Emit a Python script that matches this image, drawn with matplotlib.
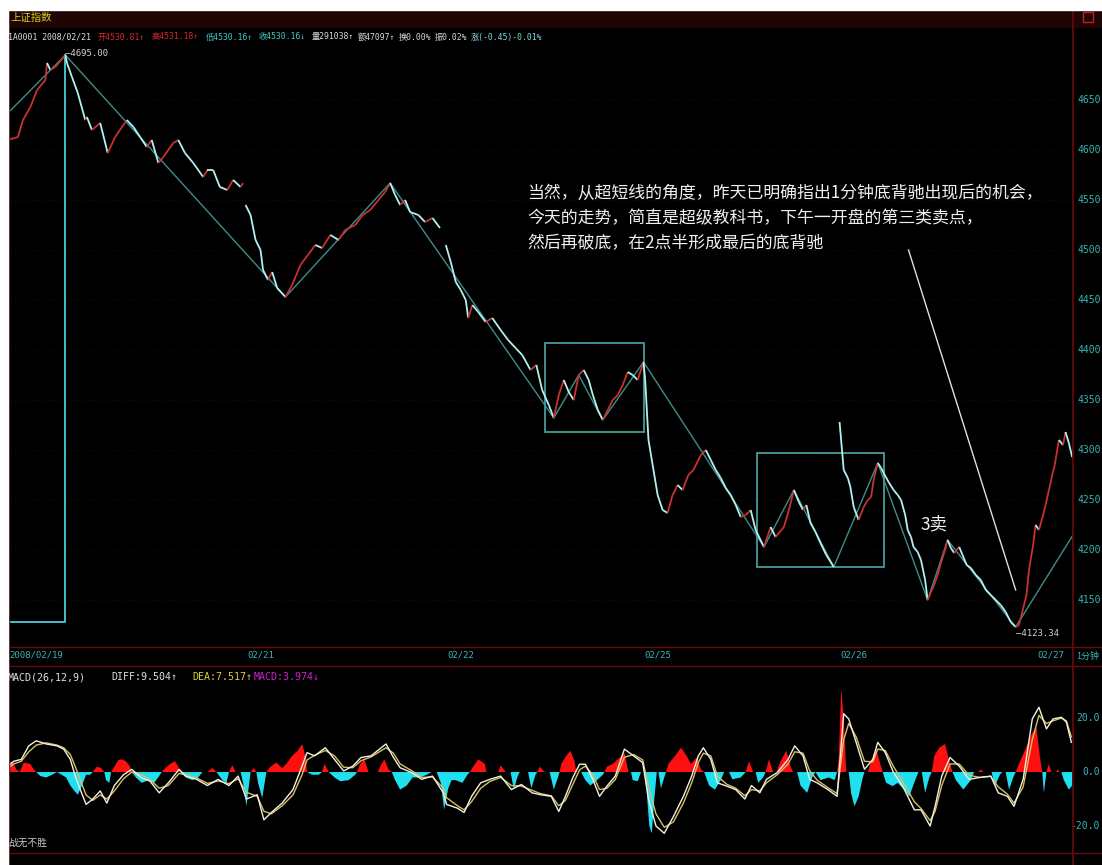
import matplotlib
matplotlib.use('Agg')
import matplotlib.pyplot as plt
import numpy as np
from matplotlib.collections import LineCollection
from matplotlib.patches import Rectangle
from matplotlib.lines import Line2D

plt.rcParams['font.family'] = ['Noto Sans CJK SC', 'DejaVu Sans']

# ---- price, 1-minute bars (bar index, index points) ----
seg1_t = [0, 12, 18, 27, 35, 45, 47, 51, 57, 69, 71, 77, 84, 93, 95, 101, 111, 120, 129, 143, 151, 159,
          167, 173, 181, 187, 199, 205, 213, 223, 235, 240, 247, 255, 264, 271, 280, 283]
seg1_p = [4610, 4613, 4630, 4643, 4660, 4670, 4687, 4680, 4683, 4695, 4687, 4673, 4657, 4630, 4633, 4620,
          4627, 4597, 4613, 4630, 4623, 4613, 4603, 4610, 4587, 4593, 4607, 4610, 4597, 4587, 4573, 4580,
          4580, 4563, 4560, 4570, 4563, 4567]
seg2_t = [286, 292, 298, 304, 307, 313, 318, 324, 334, 342, 352, 361, 370, 378, 388, 398, 406, 418, 427,
          436, 446, 454, 460, 466, 472, 478, 484, 494, 502, 511, 520]
seg2_p = [4545, 4535, 4510, 4500, 4480, 4470, 4478, 4462, 4453, 4465, 4485, 4495, 4505, 4502, 4515, 4510,
          4520, 4525, 4535, 4540, 4550, 4558, 4567, 4555, 4545, 4550, 4538, 4535, 4528, 4532, 4522]
seg3_t = [527, 533, 539, 545, 551, 554, 559, 566, 575, 583, 593, 602, 611, 619, 629, 636, 643, 651, 657,
          663, 669, 675, 681, 687, 693, 699, 704, 710, 716, 722, 728, 734, 740, 746, 752, 758, 765,
          767, 771, 776, 782, 788, 794, 800, 806, 812, 819, 825, 834, 840, 846, 852, 858, 864, 870, 876,
          882, 888, 894, 900, 910, 918, 924, 934, 940, 946, 952, 957, 961, 966, 972, 978, 985, 994]
seg3_p = [4505, 4488, 4468, 4460, 4450, 4432, 4445, 4438, 4428, 4432, 4420, 4410, 4402, 4395, 4380, 4385,
          4360, 4345, 4332, 4355, 4370, 4358, 4350, 4375, 4380, 4370, 4355, 4340, 4330, 4340, 4350, 4355,
          4365, 4378, 4375, 4370, 4388,
          4370, 4310, 4285, 4255, 4240, 4237, 4255, 4265, 4260, 4275, 4280, 4295, 4300, 4290, 4280, 4272,
          4262, 4255, 4245, 4233, 4235, 4240, 4220, 4203, 4223, 4213, 4223, 4240, 4260, 4248, 4240, 4245,
          4227, 4218, 4207, 4195, 4183]
seg4_t = [1001, 1006, 1011, 1014, 1018, 1024, 1030, 1035, 1039, 1042, 1047, 1051, 1054, 1060, 1066, 1071,
          1075, 1080, 1083, 1087, 1090, 1095, 1099, 1104, 1107, 1111, 1114, 1119, 1123, 1128, 1131, 1135,
          1139, 1145, 1149, 1154, 1159, 1165, 1171, 1177, 1183, 1189, 1195, 1201, 1207, 1213, 1217, 1220,
          1226, 1229, 1234, 1237, 1241, 1246, 1249, 1253, 1257, 1260, 1265, 1270, 1273, 1277, 1281]
seg4_p = [4328, 4280, 4272, 4263, 4243, 4230, 4243, 4250, 4253, 4270, 4287, 4282, 4277, 4268, 4260, 4255,
          4250, 4235, 4220, 4213, 4203, 4198, 4190, 4170, 4150, 4158, 4163, 4175, 4187, 4200, 4210, 4202,
          4197, 4203, 4195, 4185, 4182, 4175, 4170, 4160, 4155, 4150, 4145, 4138, 4128, 4123, 4125, 4135,
          4155, 4180, 4205, 4225, 4220, 4235, 4245, 4260, 4275, 4285, 4310, 4305, 4318, 4307, 4293]

# 笔 (zigzag) and the two 中枢 boxes
bi_t = [0, 69, 334, 460, 657, 687, 716, 765, 910, 946, 994, 1047, 1107, 1131, 1213, 1282]
bi_p = [4637, 4695, 4453, 4567, 4332, 4375, 4330, 4388, 4203, 4260, 4183, 4287, 4150, 4210, 4123, 4215]
edge_t = [0, 69, 69]
edge_p = [4128, 4128, 4695]
box1 = (647, 765, 4318, 4407)
box2 = (902, 1054, 4183, 4297)
arrow_t = [1084, 1213]
arrow_p = [4500, 4160]

price_ticks = [4150, 4200, 4250, 4300, 4350, 4400, 4450, 4500, 4550, 4600, 4650]
day_ticks = [0, 286, 527, 764, 1000, 1237]
day_labels = ['2008/02/19', '02/21', '02/22', '02/25', '02/26', '02/27']

# ---- MACD ----
hist_t = [0, 5, 10, 14, 19, 27, 31, 34, 39, 46, 53, 59, 70, 75, 80, 84, 89, 94, 99, 102, 107, 112, 116,
          118, 122, 124, 128, 133, 137, 142, 147, 149, 154, 161, 169, 176, 183, 185, 188, 195, 201, 205,
          207, 214, 222, 229, 234, 240, 246, 251, 258, 263, 266, 270, 274, 280, 283, 287, 290, 292, 296,
          299, 301, 306, 311, 316, 323, 330, 335, 342, 349, 354, 358, 360, 366, 374, 378, 381, 386, 393,
          400, 410, 418, 420, 424, 429, 434, 445, 448, 453, 458, 462, 466, 472, 480, 487, 496, 504, 510,
          516, 521, 525, 530, 534, 539, 547, 553, 556, 560, 566, 574, 576, 590, 593, 599, 605, 609, 613,
          616, 626, 630, 635, 637, 640, 643, 646, 652, 657, 662, 664, 666, 672, 677, 682, 684, 690, 695,
          701, 709, 716, 718, 721, 728, 735, 742, 747, 750, 752, 758, 762, 766, 769, 772, 775, 778, 781,
          783, 786, 790, 792, 795, 803, 810, 817, 822, 829, 834, 838, 844, 851, 858, 862, 868, 872, 882,
          888, 892, 897, 900, 903, 909, 912, 916, 921, 925, 930, 937, 942, 945, 950, 954, 962, 968, 972,
          978, 988, 995, 998, 1000, 1003, 1006, 1009, 1012, 1015, 1019, 1024, 1029, 1031, 1035, 1039,
          1045, 1050, 1053, 1057, 1065, 1071, 1077, 1085, 1092, 1096, 1100, 1104, 1109, 1112, 1115, 1121,
          1128, 1134, 1137, 1141, 1150, 1159, 1163, 1168, 1171, 1174, 1184, 1188, 1194, 1197, 1201, 1205,
          1210, 1213, 1217, 1224, 1232, 1238, 1242, 1245, 1247, 1250, 1253, 1256, 1262, 1264, 1266, 1268,
          1271, 1277, 1281]
hist_v = [3, 4, 1, 0, 3.5, 3, 1, 0, -1.5, -2, -1, 0, -2, -5, -7, -8.4, -5, -1, -1, 0, 2, 1.5, 0,
          -3, -4, 0, 2, 4.5, 4.7, 4, 2, 0, -2, -4, -3, -4, -1, 0, 1, 3, 4, 2,
          0, -2, -3, -2, 0, 0, 1.5, 0, -3, -4, 0, 2.5, 0, 0, -4, -12.7, -5, 0, 1.5,
          0, -4, -9.6, 0, 2, 3.5, 1.5, 3, 6, 8, 10.4, 6, 0, -1, -1, 0, 3, 0, -2,
          -3.4, -3, -1, 0, 3, 4.7, 0, 0, 2, 4.7, 1, 0, -3, -6.5, -5, -2, -2, -1, 0,
          0, -4, -14, -6, -3, -3, -4, -1, 0, 2, 4.7, 3, 0, 0, 2.5, 0, 0, -6.5, -2,
          0, 0, -6, -1, 0, 2, 1, 0, 0, -6.5, -2, 0, 3, 6, 7.9, 4, 0, 0, -3,
          -5, -3, -1, 0, 2, 3, 5, 7.2, 0, 0, -3, -3.4, 0, 0, -8, -20, -22.7, -10, 0,
          0, -6, -2, 0, 3, 6, 9, 6, 3, 5.4, 1, 0, -5, -6.5, -3, 0, 0, -2.7, -2,
          0, 4, 0, 0, -4, -2, 0, 4.7, 0, 0, 4, 7.9, 2, 0, 0, -5, -7.7, -2, 0,
          -3, -2, -3, 0, 5, 31, 20, 0, 0, -8, -12.7, -9, -2, 0, 0, 4,
          8.5, 3, 0, -4, -5.2, -4, -6, -9, -3, 0, 0, -7.7, -2, 0, 6, 9,
          10.4, 3, 0, -3, -6.5, -3, 0, 0, 1, 0, 0, -5.2, -1, 0, 0, -6.5,
          -2, 0, 3, 8, 14, 16.6, 6, 0, -7.7, 0, 3, 0, 0, 1, 0, 0,
          -3, -6.5, -5]
diff_t = [0, 7, 16, 25, 34, 46, 59, 67, 75, 81, 87, 94, 102, 111, 119, 128, 139, 149, 160, 171, 182, 193,
          206, 214, 227, 240, 253, 266, 277, 287, 300, 308, 317, 330, 343, 354, 360, 369, 382, 393, 404,
          415, 425, 437, 455, 464, 472, 486, 498, 511, 524, 528, 541, 549, 558, 569, 580, 593, 606, 618,
          631, 641, 654, 663, 671, 680, 688, 695, 704, 712, 721, 731, 742, 753, 764, 771, 780, 790, 801,
          813, 823, 831, 837, 846, 854, 865, 876, 887, 895, 905, 913, 926, 939, 947, 957, 965, 974, 987,
          998, 1006, 1012, 1021, 1031, 1041, 1047, 1056, 1066, 1077, 1091, 1099, 1110, 1116, 1124, 1134,
          1145, 1157, 1170, 1183, 1192, 1203, 1211, 1222, 1233, 1241, 1250, 1258, 1268, 1274, 1280]
diff_v = [2.2, 4, 4.7, 9.7, 11.6, 10.4, 9.7, 8.5, 4.7, -1.5, -6.5, -12, -10, -7, -11.5, -5, -1, 1, -2,
          -3.4, -7.7, -4, 1, -1.5, -2.7, -5, -2.7, -5, -1.5, -10, -8.4, -17.7, -15, -11.5, -6.5, 2.2, 7.2,
          6, 9, 4.7, 0.4, 2.2, 5.4, 6, 10.4, 5.4, 1.6, -0.2, -2.7, -1.5, -7.7, -12, -13.4, -15, -9, -4,
          -2.7, -1.5, -6.5, -4.6, -7.7, -8.4, -9, -14.6, -9, -2, 2.9, 2.9, -2.7, -9, -5.2, -1.5, 8.5, 6,
          3.5, -10, -20, -22.7, -16.5, -9, -1.5, 6, 9, 4.7, -4, -5.2, -6.5, -10, -5, -7.7, -2.7, -0.2,
          4.7, 9.7, 6, -2.7, -4, -6.5, -9, 21.6, 19.7, 11, 1, 4.7, 11, 7.2, -0.2, -5.2, -14, -14, -20,
          -12.7, -1.5, 5.4, 2.2, -2.7, -2, -1.5, -7.7, -9, -12.7, -2.7, 19.7, 24, 16, 19.7, 20.3, 18.5, 11]
dea_v = [1.5, 3, 4, 7.5, 10, 10.8, 10, 9, 6.5, 2, -3, -8.5, -10.5, -8.5, -10, -7, -2.5, 0, -1, -2.8,
         -6, -5, -0.5, -1, -2.2, -4.2, -3.3, -4.3, -2.5, -7.5, -9, -14.5, -15.5, -12.5, -8.5, -1, 4.5,
         6.2, 8, 6, 1.8, 1.6, 4.2, 5.6, 9, 7, 3, 0.5, -2, -1.8, -6, -9.5, -12.5, -14, -11, -6, -3.5, -2,
         -5, -5.2, -6.8, -8, -8.8, -12.5, -10.5, -4.5, 0.8, 2.2, -1, -6.5, -6, -2.8, 5.5, 6.5, 4.5, -5.5,
         -15.5, -20.5, -18.5, -11.5, -4, 3.5, 7, 6, -1.5, -4.5, -6, -8.8, -6.5, -7, -4, -1, 3, 7.5, 7,
         0.5, -3, -5.8, -8, 12, 18, 13, 4, 3.8, 8.5, 8, 2, -3.5, -11, -13.5, -18, -14.5, -5, 3, 3, -1.2,
         -2, -1.6, -5.5, -8.2, -11.5, -5.5, 12, 21, 18, 19, 20, 19, 13]
macd_ticks = [20, 0, -20]

RED = '#c83232'
CYAN = '#b4f0f0'
GRID = '#3c0808'
FRAME = '#6a0a0a'
AXIS_TXT = '#3cb4b4'

W, H = 1102, 865
fig = plt.figure(figsize=(W / 100, H / 100), dpi=100, facecolor='black')


def box(l, t, r, b):
    return [l / W, 1 - b / H, (r - l) / W, (b - t) / H]


def ft(x, y, s, color, size, **kw):
    fig.text(x / W, 1 - y / H, s, color=color, fontsize=size, va='center', **kw)


ax = fig.add_axes(box(8, 10, 1073, 647))
ax2 = fig.add_axes(box(8, 666, 1073, 853))
for a in (ax, ax2):
    a.set_facecolor('black')
    a.set_xlim(0, 1282)
    a.set_xticks([])
    a.set_yticks([])
    for s in a.spines.values():
        s.set_visible(False)
ax.set_ylim(4103, 4740)
ax2.set_ylim(-30, 39.3)

# faint grid
for v in price_ticks:
    ax.axhline(v, color=GRID, lw=0.6, ls=(0, (1, 3)), zorder=0)

# price line, red when rising, cyan when falling
segs, cols = [], []
for t, p in [(seg1_t, seg1_p), (seg2_t, seg2_p), (seg3_t, seg3_p), (seg4_t, seg4_p)]:
    for i in range(len(t) - 1):
        segs.append([(t[i], p[i]), (t[i + 1], p[i + 1])])
        cols.append(RED if p[i + 1] > p[i] else CYAN)
ax.add_collection(LineCollection(segs, colors=cols, linewidths=1.3, zorder=3))

ax.plot(bi_t, bi_p, color='#3f8c8c', lw=1.0, zorder=2)
ax.plot(edge_t, edge_p, color='#48c0c8', lw=1.4, zorder=2)
for (t0, t1, p0, p1) in (box1, box2):
    ax.add_patch(Rectangle((t0, p0), t1 - t0, p1 - p0, fill=False, ec='#4a9a9a', lw=1.3, zorder=2))
ax.plot(arrow_t, arrow_p, color='#e0e0e0', lw=1.0, zorder=4)

ax.text(69, 4697, '—4695.00', color='#d0d0d0', fontsize=6.5, va='center', ha='left',
        family=['DejaVu Sans Mono'])
ax.text(1213, 4116, '—4123.34', color='#d0d0d0', fontsize=6.5, va='center', ha='left',
        family=['DejaVu Sans Mono'], clip_on=False)

# right price axis labels
for v in price_ticks:
    ax.text(1.004, v, f'{v}', transform=ax.get_yaxis_transform(), color=AXIS_TXT, fontsize=7,
            va='center', ha='left', family=['DejaVu Sans Mono'], clip_on=False)

# date row
for t, lab in zip(day_ticks, day_labels):
    ax.text(t + 2, -0.0125, lab, transform=ax.get_xaxis_transform(), color=AXIS_TXT, fontsize=6.5,
            va='center', ha='left', family=['DejaVu Sans Mono'], clip_on=False)
ft(1076, 656, '1分钟', AXIS_TXT, 6.5)

# annotation
ann = ['当然，从超短线的角度，昨天已明确指出1分钟底背驰出现后的机会，',
       '今天的走势，简直是超级教科书，下午一开盘的第三类卖点，',
       '然后再破底，在2点半形成最后的底背驰']
for i, line in enumerate(ann):
    ft(527, 193 + 25 * i, line, '#f0f0f0', 12.2)
ft(920, 524, '3卖', '#f0f0f0', 12.5)

# MACD panel
hv = np.array(hist_v)
ax2.fill_between(hist_t, 0, hv, where=hv >= 0, interpolate=True, color='#ff1010', lw=0)
ax2.fill_between(hist_t, 0, hv, where=hv <= 0, interpolate=True, color='#20e0f0', lw=0)
ax2.plot(diff_t, dea_v, color='#d8c060', lw=1.0)
ax2.plot(diff_t, diff_v, color='#f0f0e8', lw=1.0)
for v in macd_ticks:
    ax2.text(1.025, v, f'{v:.1f}', transform=ax2.get_yaxis_transform(), color=AXIS_TXT,
             fontsize=7, va='center', ha='right', family=['DejaVu Sans Mono'], clip_on=False)

# headers
fig.patches.append(Rectangle((8 / W, 1 - 27 / H), 1 - 8 / W, 17 / H, transform=fig.transFigure,
                             color='#1e0404', zorder=0))
ft(10, 18, '上证指数', '#d8d020', 7.5)
mono = ['DejaVu Sans Mono', 'Noto Sans CJK SC']
hdr = [(8, '1A0001 2008/02/21', '#e0e0e0'), (98, '开4530.81↑', '#d82828'),
       (152, '高4531.18↑', '#d82828'), (206, '低4530.16↑', '#40c8c8'),
       (259, '收4530.16↓', '#40c8c8'), (312, '量291038↑', '#d8d8d8'),
       (358, '额47097↑', '#d8d8d8'), (399, '换0.00%', '#d8d8d8'),
       (435, '振0.02%', '#d8d8d8'), (471, '涨(-0.45)-0.01%', '#80d8d8')]
for x, s, c in hdr:
    ft(x, 37, s, c, 5.9, family=mono)
ft(8, 677, 'MACD(26,12,9)', '#e0e0e0', 7.2, family=mono)
ft(111, 677, 'DIFF:9.504↑', '#e0e0e0', 7.2, family=mono)
ft(192, 677, 'DEA:7.517↑', '#d8d040', 7.2, family=mono)
ft(254, 677, 'MACD:3.974↓', '#d020d0', 7.2, family=mono)
ft(8, 843, '战无不胜', '#c8c8c8', 7)
fig.patches.append(Rectangle((1083 / W, 1 - 22 / H), 10 / W, 10 / H, transform=fig.transFigure,
                             fill=False, ec='#c02020', lw=1.0))

# frame lines
for y in (647, 666, 853):
    fig.lines.append(Line2D([8 / W, 1], [1 - y / H] * 2, transform=fig.transFigure, color=FRAME, lw=1.0))
fig.lines.append(Line2D([1073 / W] * 2, [0, 1 - 10 / H], transform=fig.transFigure, color=FRAME, lw=1.2))
fig.lines.append(Line2D([8.5 / W] * 2, [0, 1 - 10 / H], transform=fig.transFigure, color='#3a0606', lw=1.0))

# white border top and left
fig.patches.append(Rectangle((0, 1 - 10 / H), 1, 10 / H, transform=fig.transFigure, color='white',
                             zorder=50))
fig.patches.append(Rectangle((0, 0), 8 / W, 1, transform=fig.transFigure, color='white', zorder=50))

fig.savefig('out.png', dpi=100, facecolor='black')
